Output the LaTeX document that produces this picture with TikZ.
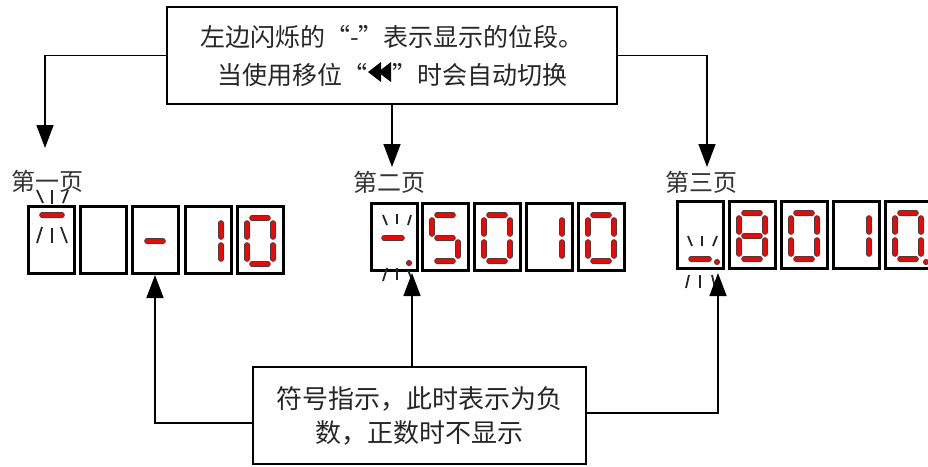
\documentclass[tikz,border=0pt]{standalone}
\usepackage{fontspec}
\setmainfont{Noto Sans CJK SC}
\usetikzlibrary{arrows.meta}

\tikzset{
  seg/.style={draw=black!75, line width=0.9pt, double=red, double distance=3.8pt, line cap=round},
  segdot/.style={fill=red, draw=black!75, line width=0.8pt},
  dbox/.style={draw=black, line width=3pt, minimum width=46pt, minimum height=67pt, inner sep=0pt},
  tick/.style={draw=black!85, line width=1.8pt},
  textbox/.style={draw=black, line width=1.5pt, align=center, inner sep=0pt, text=black!85},
  arr/.style={draw=black, line width=1.5pt, -{Triangle[length=23pt,width=17pt]}},
  pagelabel/.style={font=\fontsize{24}{24}\selectfont, text=black!80, inner sep=0pt},
}

\newcommand{\SgA}{\draw[seg] (15,12)--(31,12);}
\newcommand{\SgB}{\draw[seg] (36,17)--(36,31);}
\newcommand{\SgC}{\draw[seg] (36,39)--(36,53);}
\newcommand{\SgD}{\draw[seg] (15,58)--(31,58);}
\newcommand{\SgE}{\draw[seg] (10,39)--(10,53);}
\newcommand{\SgF}{\draw[seg] (10,17)--(10,31);}
\newcommand{\SgG}{\draw[seg] (15,35)--(31,35);}
\newcommand{\SgP}{\filldraw[segdot] (41,61) circle (2.6pt);}
\newcommand{\Digit}[3]{\begin{scope}[shift={(#1,#2)}]#3\end{scope}}
\newcommand{\BackBack}{\tikz[x=1pt,y=1pt,baseline=-2pt]{\fill[black] (0,10)--(13,20)--(13,0)--cycle; \fill[black] (10,10)--(23,20)--(23,0)--cycle;}}

\begin{document}
\begin{tikzpicture}[x=1pt, y=-1pt]
\useasboundingbox (0,0) rectangle (928,466);

% ---------- text boxes ----------
\node[textbox, minimum width=450pt, minimum height=97pt,
      font=\fontsize{25}{38}\selectfont] (top) at (392,55.5)
  {左边闪烁的“-”表示显示的位段。\\当使用移位“\kern1pt\BackBack\kern1pt”时会自动切换};

\node[textbox, minimum width=333pt, minimum height=97pt,
      font=\fontsize{26}{34}\selectfont] (note) at (419.5,415.5)
  {符号指示，此时表示为负\\数，正数时不显示};

% ---------- page labels ----------
\node[pagelabel] (lab1) at (48,181) {第一页};
\node[pagelabel] (lab2) at (389,182) {第二页};
\node[pagelabel] (lab3) at (701,182) {第三页};

% ---------- digit boxes ----------
% group 1
\foreach \i/\x in {1/28,2/80,3/132,4/185,5/237}
  \node[dbox] (ga\i) at (\x+23,239.5) {};
% group 2
\foreach \i/\x in {1/371,2/422,3/474,4/526,5/578}
  \node[dbox] (gb\i) at (\x+23,237) {};
% group 3
\foreach \i/\x in {1/677,2/729,3/781,4/833,5/885}
  \node[dbox] (gc\i) at (\x+23,235) {};

% ---------- segments, group 1 ----------
\draw[seg] (42,215)--(62,215);
\draw[tick] (37,190)--(43,203);
\draw[tick] (52,190)--(52,204);
\draw[tick] (68,190)--(63,203);
\draw[tick] (42,227)--(37,243);
\draw[tick] (52,228)--(52,243);
\draw[tick] (61,227)--(67,243);
\Digit{132}{206}{\SgG}
\Digit{185}{206}{\SgB\SgC}
\Digit{237}{206}{\SgA\SgB\SgC\SgD\SgE\SgF}

% ---------- segments, group 2 ----------
\draw[seg] (384,238)--(402,238);
\filldraw[segdot] (409,263) circle (2.6pt);
\draw[tick] (383,215)--(387,225);
\draw[tick] (397,214)--(397,224);
\draw[tick] (411,215)--(408,225);
\draw[tick] (387,268)--(383,281);
\draw[tick] (397,268)--(397,280);
\draw[tick] (408,270)--(412,280);
\Digit{422}{203}{\SgA\SgF\SgG\SgC\SgD}
\Digit{474}{203}{\SgA\SgB\SgC\SgD\SgE\SgF}
\Digit{526}{203}{\SgB\SgC}
\Digit{578}{203}{\SgA\SgB\SgC\SgD\SgE\SgF}

% ---------- segments, group 3 ----------
\draw[seg] (691,259)--(709,259);
\filldraw[segdot] (717,262) circle (2.6pt);
\draw[tick] (688,236)--(692,246);
\draw[tick] (702,236)--(702,246);
\draw[tick] (717,236)--(713,246);
\draw[tick] (689,275)--(686,288);
\draw[tick] (700,275)--(700,288);
\draw[tick] (712,275)--(715,288);
\Digit{729}{201}{\SgA\SgB\SgC\SgD\SgE\SgF\SgG}
\Digit{781}{201}{\SgA\SgB\SgC\SgD\SgE\SgF}
\Digit{833}{201}{\SgB\SgC}
\Digit{885}{201}{\SgA\SgB\SgC\SgD\SgE\SgF\SgP}

% ---------- connectors ----------
\coordinate (t1) at (45,148);
\coordinate (t2) at (392,167);
\coordinate (t3) at (707,167);
\coordinate (b1) at (155,275);
\coordinate (b2) at (412,273);
\coordinate (b3) at (718,273);

\draw[arr] (top.west) -| (t1);
\draw[arr] (top.south) -- (top.south |- t2);
\draw[arr] (top.east) -| (t3);

\draw[arr] ([yshift=-7.5pt]note.west) -| (b1);
\draw[arr] (note.north -| b2) -- (b2);
\draw[arr] ([yshift=2.5pt]note.east) -| (b3);
\end{tikzpicture}
\end{document}
